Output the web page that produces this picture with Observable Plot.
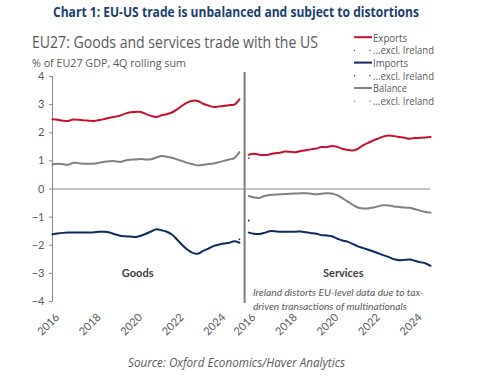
<!DOCTYPE html>
<html>
<head>
<meta charset="utf-8">
<script src="https://cdn.jsdelivr.net/npm/d3@7"></script>
<script src="https://cdn.jsdelivr.net/npm/@observablehq/plot@0.6"></script>
<style>
  html, body { margin: 0; padding: 0; background: #fff; }
  #wrap { position: relative; width: 479px; height: 378px; overflow: hidden; }
  #wrap svg { position: absolute; left: 0; top: 0; }
</style>
</head>
<body>
<div id="wrap"></div>
<script>
// ---------- data (quarterly, starting 2016Q1, % of EU27 GDP, 4Q rolling sum) ----------
const startYear = 2016;
const goodsExports = [2.48,2.46,2.43,2.42,2.47,2.46,2.44,2.43,2.42,2.45,2.49,2.53,2.57,2.61,2.68,2.73,2.74,2.74,2.66,2.60,2.56,2.62,2.66,2.72,2.83,2.97,3.08,3.14,3.13,3.03,2.97,2.92,2.93,2.95,2.98,3.00,3.19];
const goodsImports = [-1.61,-1.58,-1.56,-1.55,-1.55,-1.55,-1.55,-1.55,-1.54,-1.52,-1.52,-1.55,-1.61,-1.66,-1.68,-1.69,-1.71,-1.66,-1.59,-1.51,-1.43,-1.47,-1.52,-1.62,-1.80,-1.99,-2.16,-2.27,-2.30,-2.20,-2.12,-2.03,-1.98,-1.94,-1.91,-1.86,-1.91];
const goodsBalance = [0.88,0.90,0.88,0.86,0.93,0.92,0.90,0.90,0.90,0.93,0.97,0.99,0.99,0.96,1.01,1.04,1.05,1.07,1.05,1.06,1.12,1.17,1.15,1.11,1.05,0.99,0.93,0.88,0.84,0.86,0.89,0.91,0.95,1.00,1.05,1.10,1.31];
const servicesExports = [1.22,1.25,1.22,1.21,1.23,1.27,1.29,1.33,1.32,1.31,1.35,1.38,1.41,1.44,1.49,1.49,1.53,1.50,1.43,1.39,1.37,1.43,1.55,1.64,1.73,1.80,1.87,1.90,1.88,1.85,1.82,1.79,1.81,1.82,1.83,1.85];
const servicesImports = [-1.55,-1.59,-1.60,-1.56,-1.50,-1.50,-1.52,-1.52,-1.52,-1.52,-1.51,-1.54,-1.57,-1.59,-1.64,-1.65,-1.68,-1.76,-1.83,-1.87,-1.95,-2.04,-2.10,-2.16,-2.22,-2.29,-2.36,-2.42,-2.50,-2.53,-2.52,-2.51,-2.55,-2.60,-2.64,-2.73];
const servicesBalance = [-0.25,-0.30,-0.32,-0.25,-0.21,-0.20,-0.19,-0.18,-0.17,-0.16,-0.15,-0.15,-0.17,-0.19,-0.17,-0.15,-0.16,-0.22,-0.32,-0.44,-0.56,-0.66,-0.69,-0.69,-0.66,-0.61,-0.58,-0.59,-0.62,-0.64,-0.66,-0.67,-0.72,-0.77,-0.82,-0.84];
// "...excl. Ireland" series: only single visible points
const exclIreland = [
  {panel: "Services", series: "Exports", year: 2016.0, value: 1.10},
  {panel: "Services", series: "Imports", year: 2016.0, value: -1.12},
  {panel: "Goods", series: "Imports", year: 2025.0, value: -1.79}
];
const seriesNames = ["Exports", "Imports", "Balance"];
const seriesColors = ["#C8102E", "#0B2A5E", "#808080"];
const panelNames = ["Goods", "Services"];
const tickYears = [2016, 2018, 2020, 2022, 2024];
const yTicks = [-4, -3, -2, -1, 0, 1, 2, 3, 4];
const titleText = "Chart 1: EU-US trade is unbalanced and subject to distortions";
const chartTitle = "EU27: Goods and services trade with the US";
const chartSubtitle = "% of EU27 GDP, 4Q rolling sum";
const legendLabels = ["Exports", "...excl. Ireland", "Imports", "...excl. Ireland", "Balance", "...excl. Ireland"];
const noteText = "Ireland distorts EU-level data due to tax-\ndriven transactions of multinationals";
const sourceText = "Source: Oxford Economics/Haver Analytics";

// ---------- build table ----------
const servicesOffset = 9.45;          // services panel placed after goods on one axis
const divider = startYear + 9.25;      // boundary between the two panels
const pos = (panel, year) => panel === "Goods" ? year : year + servicesOffset;
const rows = [];
const addSeries = (panel, series, arr) => arr.forEach((v, i) =>
  rows.push({panel, series, x: pos(panel, startYear + i / 4), value: v, key: panel + series}));
addSeries("Goods", "Exports", goodsExports);
addSeries("Goods", "Imports", goodsImports);
addSeries("Goods", "Balance", goodsBalance);
addSeries("Services", "Exports", servicesExports);
addSeries("Services", "Imports", servicesImports);
addSeries("Services", "Balance", servicesBalance);
const exclRows = exclIreland.map(d => ({...d, x: pos(d.panel, d.year)}));
const tickPositions = [...tickYears.map(y => pos("Goods", y)), ...tickYears.map(y => pos("Services", y))];
const tickLabel = x => String(Math.round(x < divider ? x : x - servicesOffset));
const panelLabels = [
  {label: "Goods", x: pos("Goods", 2020.1), value: -3},
  {label: "Services", x: pos("Services", 2020.55), value: -3}
];
const note = [{label: noteText, x: pos("Services", 2016.2), value: -3.46}];

const xEnd = pos("Services", startYear + (servicesExports.length - 1) / 4);

const chart = Plot.plot({
  width: 479,
  height: 378,
  marginLeft: 52,
  marginRight: 479 - 430,
  marginTop: 76,
  marginBottom: 77,
  style: {fontFamily: "Lato, 'Open Sans', sans-serif", color: "#595959", background: "transparent"},
  x: {domain: [startYear, xEnd], axis: null},
  y: {domain: [-4, 4], axis: null},
  color: {domain: seriesNames, range: seriesColors},
  marks: [
    Plot.ruleY([0], {stroke: "#8a8a8a", strokeWidth: 1}),
    Plot.frame({anchor: "left", stroke: "#8a8a8a", strokeWidth: 1}),
    Plot.ruleX([divider], {stroke: "#7a7a7a", strokeWidth: 2, insetTop: -4, insetBottom: -2}),
    Plot.axisY(yTicks, {label: null, tickSize: 3, tickPadding: 5, fontSize: 11, stroke: "#8a8a8a", fill: "#595959"}),
    Plot.axisX(tickPositions, {label: null, tickFormat: tickLabel, tickRotate: -45, tickSize: 0, tickPadding: 12, dx: 5, dy: 2, fontSize: 11, fill: "#595959"}),
    Plot.line(rows, {x: "x", y: "value", z: "key", stroke: "series", strokeWidth: 2, curve: "catmull-rom"}),
    Plot.dot(exclRows, {x: "x", y: "value", fill: "series", r: 0.9}),
    Plot.text(panelLabels, {x: "x", y: "value", text: "label", fontWeight: "bold", fontSize: 11, fill: "#404040"}),
    Plot.text(note, {x: "x", y: "value", text: "label", textAnchor: "start", fontStyle: "italic", fontSize: 10.2, lineHeight: 1.37, fill: "#595959", lineAnchor: "top"})
  ]
});
document.getElementById("wrap").appendChild(chart);

// ---------- titles, legend and source (outside the plotting area) ----------
const ns = "http://www.w3.org/2000/svg";
const over = document.createElementNS(ns, "svg");
over.setAttribute("width", 479);
over.setAttribute("height", 378);
over.style.fontFamily = "'Open Sans', Lato, sans-serif";
const addText = (str, x, y, len, size, fill, extra = {}) => {
  const t = document.createElementNS(ns, "text");
  t.textContent = str;
  t.setAttribute("x", x); t.setAttribute("y", y);
  t.setAttribute("font-size", size); t.setAttribute("fill", fill);
  t.setAttribute("textLength", len); t.setAttribute("lengthAdjust", "spacingAndGlyphs");
  for (const k in extra) t.setAttribute(k, extra[k]);
  over.appendChild(t);
};
addText(titleText, 53, 17, 366, 14, "#1A3F6F", {"font-weight": "bold"});
addText(chartTitle, 32, 48, 286, 15.5, "#595959");
addText(chartSubtitle, 32, 67, 154, 11, "#595959");
addText(sourceText, 128, 367, 217, 12.5, "#595959", {"font-style": "italic"});
const legendBase = [41.5, 54.2, 66.9, 79.6, 92.3, 105];
const legendLen = [34, 61, 35, 61, 34, 61];
legendLabels.forEach((s, i) => {
  addText(s, 373, legendBase[i], legendLen[i], 10, "#595959");
  const c = seriesColors[Math.floor(i / 2)];
  if (i % 2 === 0) {
    const l = document.createElementNS(ns, "line");
    l.setAttribute("x1", 354); l.setAttribute("x2", 372);
    l.setAttribute("y1", legendBase[i] - 4.3); l.setAttribute("y2", legendBase[i] - 4.3);
    l.setAttribute("stroke", c); l.setAttribute("stroke-width", 2);
    over.appendChild(l);
  } else {
    [354.5, 370].forEach(cx => {
      const d = document.createElementNS(ns, "circle");
      d.setAttribute("cx", cx); d.setAttribute("cy", legendBase[i] - 3.8);
      d.setAttribute("r", 0.7); d.setAttribute("fill", c);
      over.appendChild(d);
    });
  }
});
document.getElementById("wrap").appendChild(over);
</script>
</body>
</html>
